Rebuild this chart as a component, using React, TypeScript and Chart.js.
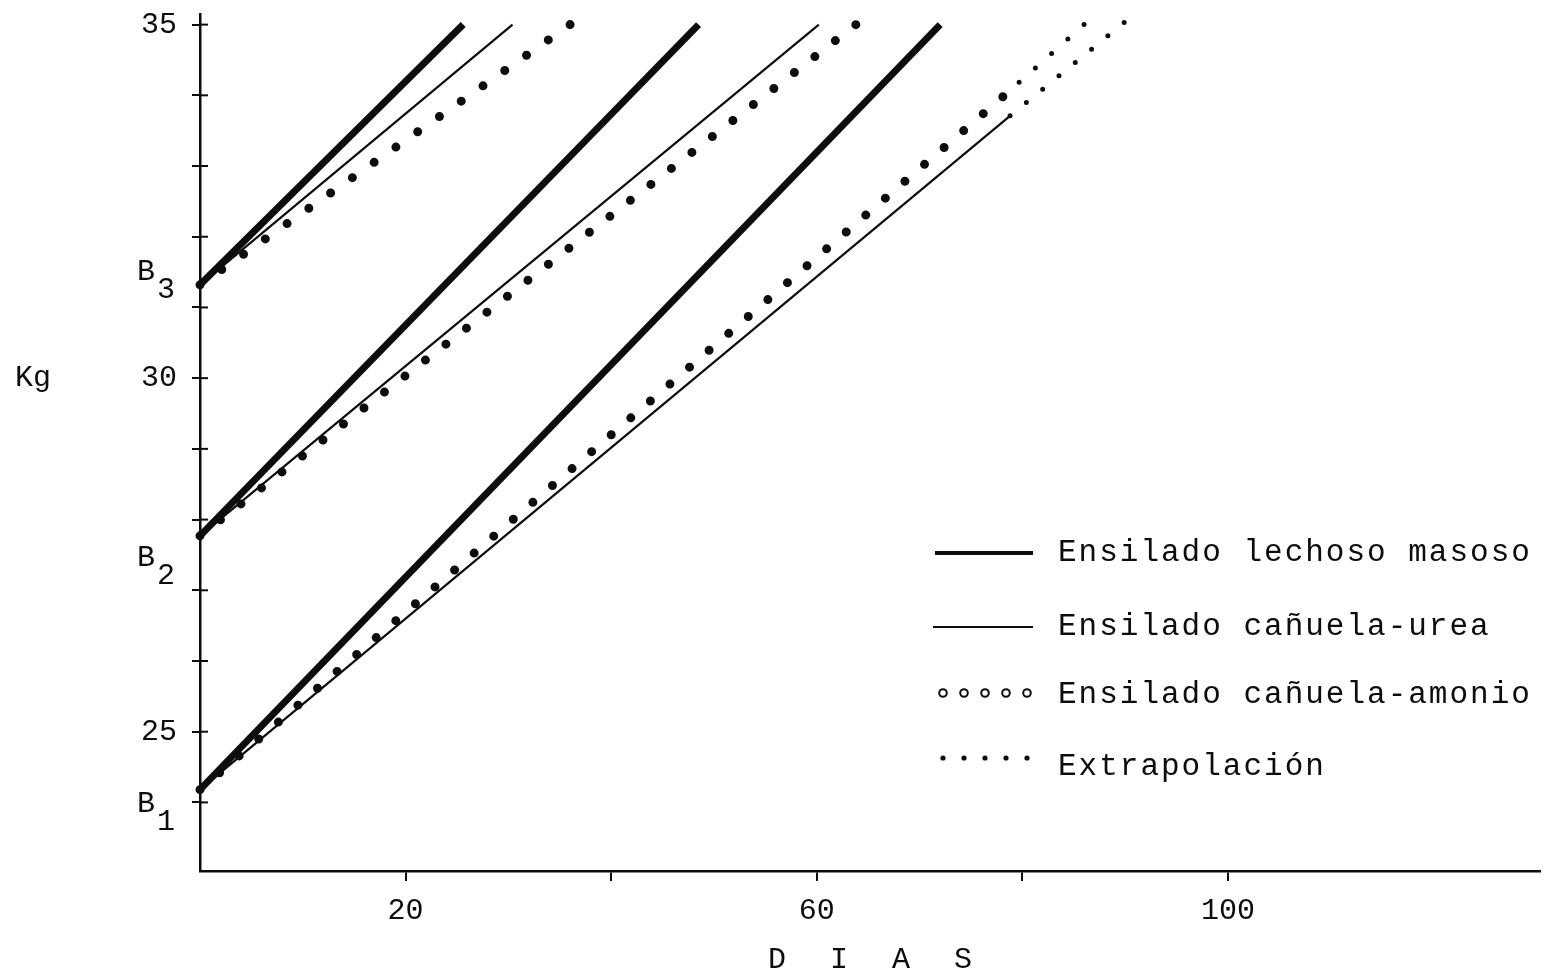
import React, { useEffect, useRef } from 'react';
import { Chart, registerables } from 'chart.js';

Chart.register(...registerables);

// ---- data ----
const baseLabels = ['B1', 'B2', 'B3'];
const baseKg = [24.18, 27.77, 31.32]; // weight at day 0 for each group

const lechosoEndDay = [72.0, 48.5, 25.6];
const lechosoEndKg = [35.0, 35.0, 35.0];

const ureaEndDay = [78.8, 60.2, 30.4];
const ureaEndKg = [33.71, 35.0, 35.0];

const amonioEndDay = [78.1, 63.8, 36.0];
const amonioEndKg = [33.98, 35.0, 35.0];

const extrapUreaDay = [78.8, 89.9];
const extrapUreaKg = [33.71, 35.03];
const extrapAmonioDay = [78.1, 86.0];
const extrapAmonioKg = [33.98, 35.0];

const yTickValues = [24, 25, 26, 27, 28, 29, 30, 31, 32, 33, 34, 35];
const yTickLabels = ['25', '30', '35'];
const xTickValues = [20, 40, 60, 80, 100];
const xTickLabels = ['20', '60', '100'];

const legendLabels = [
  'Ensilado lechoso masoso',
  'Ensilado cañuela-urea',
  'Ensilado cañuela-amonio',
  'Extrapolación',
];

const FONT = "'Liberation Mono', 'DejaVu Sans Mono', monospace";
const INK = '#0d0d0d';

function seg(x0: number, y0: number, x1: number, y1: number) {
  return [
    { x: x0, y: y0 },
    { x: x1, y: y1 },
  ];
}

// make dotted lines begin and end on a dot
const dotFitPlugin = {
  id: 'dotFit',
  beforeDatasetsDraw(chart: any) {
    chart.data.datasets.forEach((ds: any, i: number) => {
      if (!ds.dotSpacing) return;
      const meta = chart.getDatasetMeta(i);
      const pts = meta.data;
      if (!pts || pts.length < 2) return;
      const dx = pts[1].x - pts[0].x;
      const dy = pts[1].y - pts[0].y;
      const len = Math.sqrt(dx * dx + dy * dy);
      const n = Math.max(1, Math.round(len / ds.dotSpacing));
      meta.dataset.options.borderDash = [0, len / n - 0.001];
    });
  },
};

const decorPlugin = {
  id: 'decor',
  afterDraw(chart: any) {
    const ctx = chart.ctx as CanvasRenderingContext2D;
    const xs = chart.scales.x;
    const ys = chart.scales.y;
    const ax = chart.chartArea.left;
    ctx.save();
    ctx.strokeStyle = INK;
    ctx.fillStyle = INK;
    // inward half of y tick marks (crossing ticks)
    ctx.lineWidth = 2;
    yTickValues.forEach((v) => {
      const py = ys.getPixelForValue(v);
      ctx.beginPath();
      ctx.moveTo(ax, py);
      ctx.lineTo(ax + 8, py);
      ctx.stroke();
    });

    // B labels with subscripts
    ctx.textBaseline = 'middle';
    ctx.textAlign = 'left';
    const bOffsets = [14, 22, -13];
    baseLabels.forEach((lab, i) => {
      const py = ys.getPixelForValue(baseKg[i]) + bOffsets[i];
      ctx.font = `30px ${FONT}`;
      ctx.fillText(lab[0], 137, py);
      ctx.fillText(lab.slice(1), 157, py + 18);
    });

    // axis titles
    ctx.font = `30px ${FONT}`;
    ctx.textAlign = 'left';
    ctx.fillText('Kg', 15, ys.getPixelForValue(30));
    ctx.textAlign = 'center';
    (ctx as any).letterSpacing = '0px';
    const title = ['D', 'I', 'A', 'S'];
    const cx = (xs.left + xs.right) / 2;
    title.forEach((t, i) => {
      ctx.fillText(t, cx + (i - 1.5) * 62, 960);
    });

    // legend
    const lx0 = 935;
    const lx1 = 1033;
    const tx = 1058;
    const rows = [553, 627, 695, 767];
    ctx.lineCap = 'butt';
    ctx.lineWidth = 4;
    ctx.beginPath();
    ctx.moveTo(lx0, rows[0]);
    ctx.lineTo(lx1, rows[0]);
    ctx.stroke();
    ctx.lineWidth = 2.2;
    ctx.beginPath();
    ctx.moveTo(lx0 - 2, rows[1]);
    ctx.lineTo(lx1, rows[1]);
    ctx.stroke();
    ctx.lineWidth = 2;
    for (let k = 0; k < 5; k++) {
      ctx.beginPath();
      ctx.arc(943 + k * 21, rows[2] - 2, 3.8, 0, Math.PI * 2);
      ctx.stroke();
    }
    for (let k = 0; k < 5; k++) {
      ctx.beginPath();
      ctx.arc(943 + k * 21, rows[3] - 9, 2.6, 0, Math.PI * 2);
      ctx.fill();
    }
    ctx.textAlign = 'left';
    ctx.font = `31px ${FONT}`;
    (ctx as any).letterSpacing = '2px';
    legendLabels.forEach((t, i) => {
      ctx.fillText(t, tx, rows[i]);
    });
    ctx.restore();
  },
};

export default function App() {
  const ref = useRef<HTMLCanvasElement>(null);
  useEffect(() => {
    const thick = { borderColor: INK, borderWidth: 7, borderCapStyle: 'butt' };
    const thin = { borderColor: INK, borderWidth: 2.2 };
    const dots = { borderColor: INK, borderWidth: 9, borderDash: [0, 26], borderCapStyle: 'round', dotSpacing: 26 };
    const small = { borderColor: INK, borderWidth: 5, borderDash: [0, 21], borderCapStyle: 'round', dotSpacing: 21 };
    const datasets: any[] = [];
    baseKg.forEach((b, i) => {
      datasets.push({ label: 'lechoso ' + baseLabels[i], data: seg(0, b, lechosoEndDay[i], lechosoEndKg[i]), ...thick });
      datasets.push({ label: 'urea ' + baseLabels[i], data: seg(0, b, ureaEndDay[i], ureaEndKg[i]), ...thin });
      datasets.push({ label: 'amonio ' + baseLabels[i], data: seg(0, b, amonioEndDay[i], amonioEndKg[i]), ...dots });
    });
    datasets.push({ label: 'extrap urea', data: seg(extrapUreaDay[0], extrapUreaKg[0], extrapUreaDay[1], extrapUreaKg[1]), ...small });
    datasets.push({ label: 'extrap amonio', data: seg(extrapAmonioDay[0], extrapAmonioKg[0], extrapAmonioDay[1], extrapAmonioKg[1]), ...small });
    datasets.forEach((d) => {
      d.pointRadius = 0;
      d.tension = 0;
      d.fill = false;
      d.clip = false;
    });

    const chart = new Chart(ref.current as HTMLCanvasElement, {
      type: 'line',
      data: { datasets },
      plugins: [dotFitPlugin, decorPlugin],
      options: {
        animation: false,
        responsive: false,
        devicePixelRatio: 1,
        layout: { padding: { left: 0, top: 14, right: 10, bottom: 0 } },
        plugins: { legend: { display: false }, tooltip: { enabled: false } },
        scales: {
          x: {
            type: 'linear',
            min: 0,
            max: 130.35,
            afterFit: (s: any) => {
              s.height = 103;
              s.paddingLeft = 0;
              s.paddingRight = 0;
            },
            afterBuildTicks: (s: any) => {
              s.ticks = xTickValues.map((v) => ({ value: v }));
            },
            border: { display: true, color: INK, width: 2.5 },
            grid: { drawOnChartArea: false, drawTicks: true, tickLength: 10, tickColor: INK, lineWidth: 2 },
            ticks: {
              padding: 12,
              color: INK,
              font: { family: FONT, size: 30 },
              maxRotation: 0,
              autoSkip: false,
              callback: (v: any) => (xTickLabels.includes(String(v)) ? String(v) : ''),
            },
          },
          y: {
            type: 'linear',
            min: 23.03,
            max: 35.15,
            afterFit: (s: any) => {
              s.width = 200;
              s.paddingTop = 0;
              s.paddingBottom = 0;
            },
            afterBuildTicks: (s: any) => {
              s.ticks = yTickValues.map((v) => ({ value: v }));
            },
            border: { display: true, color: INK, width: 2.5 },
            grid: { drawOnChartArea: false, drawTicks: true, tickLength: 8, tickColor: INK, lineWidth: 2 },
            ticks: {
              padding: 15,
              color: INK,
              font: { family: FONT, size: 30 },
              autoSkip: false,
              callback: (v: any) => (yTickLabels.includes(String(v)) ? String(v) : ''),
            },
          },
        },
      } as any,
    });
    return () => chart.destroy();
  }, []);
  return (
    <div style={{ position: 'absolute', left: 0, top: 0, width: 1550, height: 974, background: '#fff' }}>
      <canvas ref={ref} width={1550} height={974} style={{ display: 'block' }} />
    </div>
  );
}
